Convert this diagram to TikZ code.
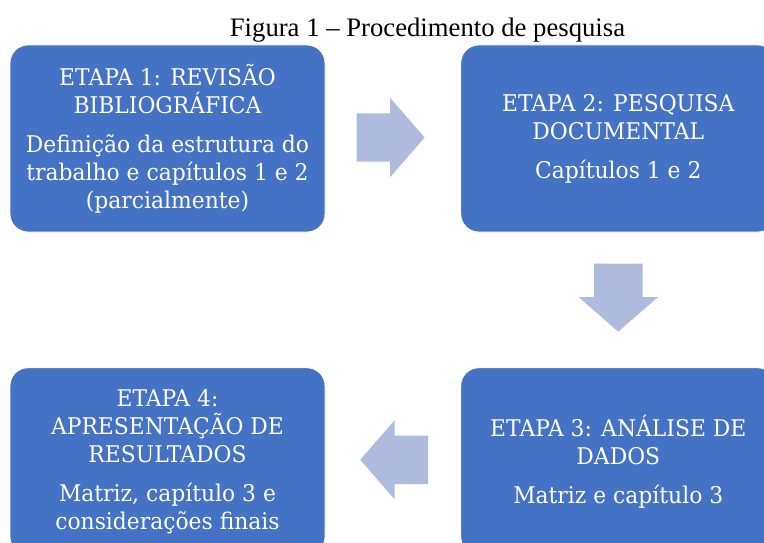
\documentclass[tikz,border=0pt]{standalone}
\usepackage{fontspec}
\setmainfont{Liberation Serif}
\newfontfamily\etapafont[FakeStretch=0.95]{DejaVu Serif}
\usepackage{xcolor}
\usepackage{tikz}
\usetikzlibrary{positioning,shapes.arrows,calc}

\definecolor{caixaazul}{HTML}{4472C4}
\definecolor{setaazul}{HTML}{AEBBDF}

\begin{document}
\begin{tikzpicture}[x=1pt, y=-1pt,
		etapa/.style={fill=caixaazul, draw=white, line width=0.8pt, rounded corners=18pt, minimum width=315pt, minimum height=187pt, inner sep=0pt, align=center, text=white, font=\etapafont\fontsize{23}{28}\selectfont},
		seta/.style={single arrow, fill=setaazul, draw=none, minimum height=68pt, inner xsep=0pt, inner ysep=24pt, single arrow head extend=15.5pt, single arrow tip angle=98, anchor=tail}]
		\clip (0,0) rectangle (764,543);
		\node[font=\fontsize{26.7}{32}\selectfont, anchor=base] (titulo) at (427.5,37) {Figura 1 -- Procedimento de pesquisa};
		\node[etapa] (etapa1) at (167.5,138.5) {ETAPA 1: REVISÃO\\BIBLIOGRÁFICA\\[11pt]Definição da estrutura do\\trabalho e capítulos 1 e 2\\(parcialmente)};
		\node[etapa, right=135pt of etapa1] (etapa2) {ETAPA 2: PESQUISA\\DOCUMENTAL\\[11pt]Capítulos 1 e 2};
		\node[etapa, below=135pt of etapa2] (etapa3) {ETAPA 3: ANÁLISE DE\\DADOS\\[11pt]Matriz e capítulo 3};
		\node[etapa, left=135pt of etapa3] (etapa4) {ETAPA 4:\\APRESENTAÇÃO DE\\RESULTADOS\\[11pt]Matriz, capítulo 3 e\\considerações finais};
		% setas entre as etapas
		\node[seta] (seta12) at ($(etapa1.east)+(31,-1)$) {};
		\node[seta, rotate=-90] (seta23) at ($(etapa2.south)+(0,31)$) {};
		\node[seta, rotate=180] (seta34) at ($(etapa3.west)+(-32,-1.5)$) {};
	\end{tikzpicture}
\end{document}
